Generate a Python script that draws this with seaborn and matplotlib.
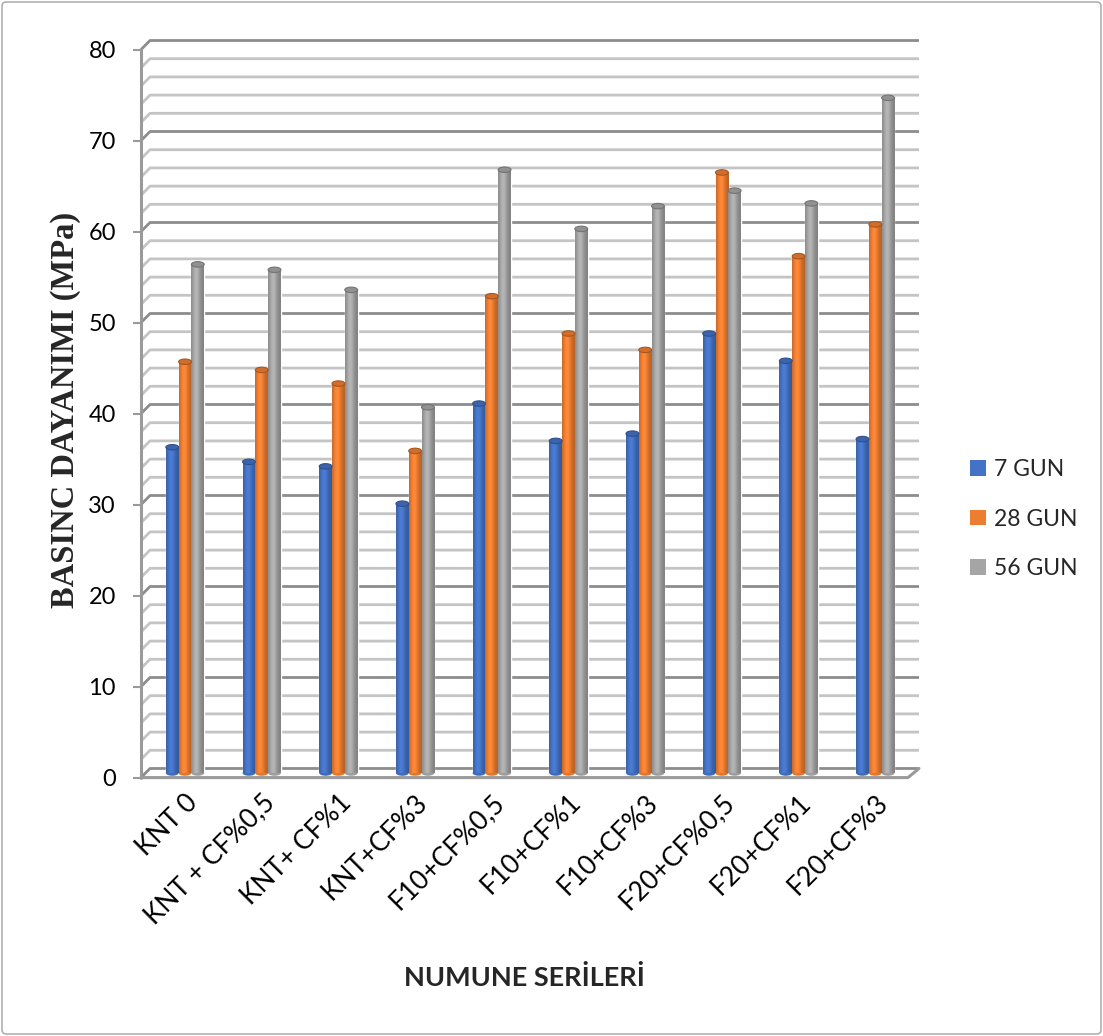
import numpy as np
import pandas as pd
import matplotlib
matplotlib.use("Agg")
import matplotlib.pyplot as plt
import seaborn as sns
from matplotlib.patches import Ellipse, FancyBboxPatch, Patch
from matplotlib.colors import to_rgb

# ---- data -------------------------------------------------------------
categories = ["KNT 0", "KNT + CF%0,5", "KNT+ CF%1", "KNT+CF%3", "F10+CF%0,5",
              "F10+CF%1", "F10+CF%3", "F20+CF%0,5", "F20+CF%1", "F20+CF%3"]
series_names = ["7 GUN", "28 GUN", "56 GUN"]
gun7 = [35.8, 34.2, 33.7, 29.6, 40.6, 36.5, 37.3, 48.3, 45.3, 36.7]
gun28 = [45.2, 44.3, 42.8, 35.4, 52.4, 48.3, 46.5, 66.0, 56.8, 60.3]
gun56 = [55.9, 55.3, 53.1, 40.2, 66.3, 59.8, 62.3, 64.0, 62.6, 74.2]
y_ticks = [0, 10, 20, 30, 40, 50, 60, 70, 80]
colors = ["#4472C4", "#ED7D31", "#A5A5A5"]

df = pd.DataFrame({
    "seri": categories * 3,
    "gun": [s for s in series_names for _ in categories],
    "deger": gun7 + gun28 + gun56,
})

# ---- figure -----------------------------------------------------------
sns.set_theme(style="white")
plt.rcParams["font.family"] = ["Lato", "DejaVu Sans"]

W, H = 1103, 1036
fig = plt.figure(figsize=(W / 100, H / 100), dpi=100)
fig.patch.set_facecolor("white")

# plot box in pixels: x 141..919, y 39.6..778.5
YLO, YHI = -0.6, 80.6
XL, XR = -0.574, 9.57
ax = fig.add_axes([141 / W, 1 - 778.5 / H, 778 / W, 738.9 / H])

sns.barplot(data=df, x="seri", y="deger", hue="gun", palette=colors,
            width=0.5, dodge=True, saturation=1, ax=ax, legend=False,
            errorbar=None, zorder=2)

# pseudo-3D walls: back wall gridlines with a short slanted floor edge
XB = XL + 9 / 76.7      # back wall left edge
XF = XR - 11 / 76.7     # front floor right end
major_c, minor_c = "#8c8c8c", "#c4c4c4"
for v in range(0, 81, 2):
    c = major_c if v % 10 == 0 else minor_c
    ax.plot([XL, XB, XR], [v - 0.5, v + 0.5, v + 0.5], color=c, lw=2.0,
            zorder=0.5, solid_capstyle="butt", clip_on=False)
# front floor edge and left spine
ax.plot([XL, XF, XR], [-0.5, -0.5, 0.5], color="#9a9a9a", lw=2.2, zorder=0.6,
        clip_on=False)
ax.plot([XL, XL], [-0.5, 79.5], color="#9a9a9a", lw=2.2, zorder=0.6,
        clip_on=False)

# cylinder shading on every bar
t = np.linspace(0, 1, 80)
shade = 0.78 + 0.32 * np.exp(-((t - 0.4) / 0.32) ** 2)
cap_h = 0.6
for p in list(ax.patches):
    x0, w, h = p.get_x(), p.get_width(), p.get_height()
    base = np.array(to_rgb(p.get_facecolor()))
    img = np.clip(shade[:, None] * base[None, :], 0, 1)[None, :, :]
    ax.imshow(img, extent=(x0, x0 + w, 0, h), aspect="auto",
              interpolation="bilinear", zorder=2.1)
    xc = x0 + w / 2
    ax.add_patch(Ellipse((xc, 0), w, cap_h, facecolor=np.clip(base * 0.95, 0, 1),
                         edgecolor="none", zorder=2.05))
    ax.add_patch(Ellipse((xc, h), w, cap_h, facecolor=np.clip(base * 0.88, 0, 1),
                         edgecolor=np.clip(base * 0.7, 0, 1), lw=0.8, zorder=2.2))

ax.set_xlim(XL, XR)
ax.set_ylim(YLO, YHI)
for s in ax.spines.values():
    s.set_visible(False)
ax.grid(False)

ax.set_yticks([v - 0.5 for v in y_ticks])
ax.set_yticklabels([str(v) for v in y_ticks])
ax.tick_params(axis="y", length=6, width=1.5, color="#9a9a9a", pad=12,
               labelsize=17, labelcolor="black", left=True)
ax.set_xticks(range(len(categories)))
ax.set_xticklabels(categories, rotation=45, ha="right", rotation_mode="anchor",
                   fontsize=19)
ax.tick_params(axis="x", length=0, pad=8, labelcolor="black")
ax.set_xlabel("")
ax.set_ylabel("")

# axis titles
fig.text(66 / W, 1 - 410 / H, "BASINC DAYANIMI (MPa)", rotation=90,
         ha="center", va="center", family="Liberation Serif",
         fontweight="bold", fontsize=23.5)
fig.text(524 / W, 1 - 978 / H, "NUMUNE SERİLERİ", ha="center", va="center",
         fontweight="bold", fontsize=19.5)

# legend
handles = [Patch(facecolor=c, edgecolor="none") for c in colors]
fig.legend(handles, series_names, loc="center left",
           bbox_to_anchor=(970 / W, 1 - 519 / H), frameon=False, fontsize=16.5,
           handlelength=0.68, handleheight=0.68, handletextpad=0.38,
           labelspacing=1.25, borderpad=0, borderaxespad=0)

# chart area border
fig.patches.append(FancyBboxPatch((2 / W, 2 / H), 1 - 4 / W, 1 - 4 / H,
                                  boxstyle="round,pad=0,rounding_size=0.004",
                                  transform=fig.transFigure, facecolor="none",
                                  edgecolor="#b0b0b0", lw=1.2))

fig.savefig("out.png", dpi=100)
